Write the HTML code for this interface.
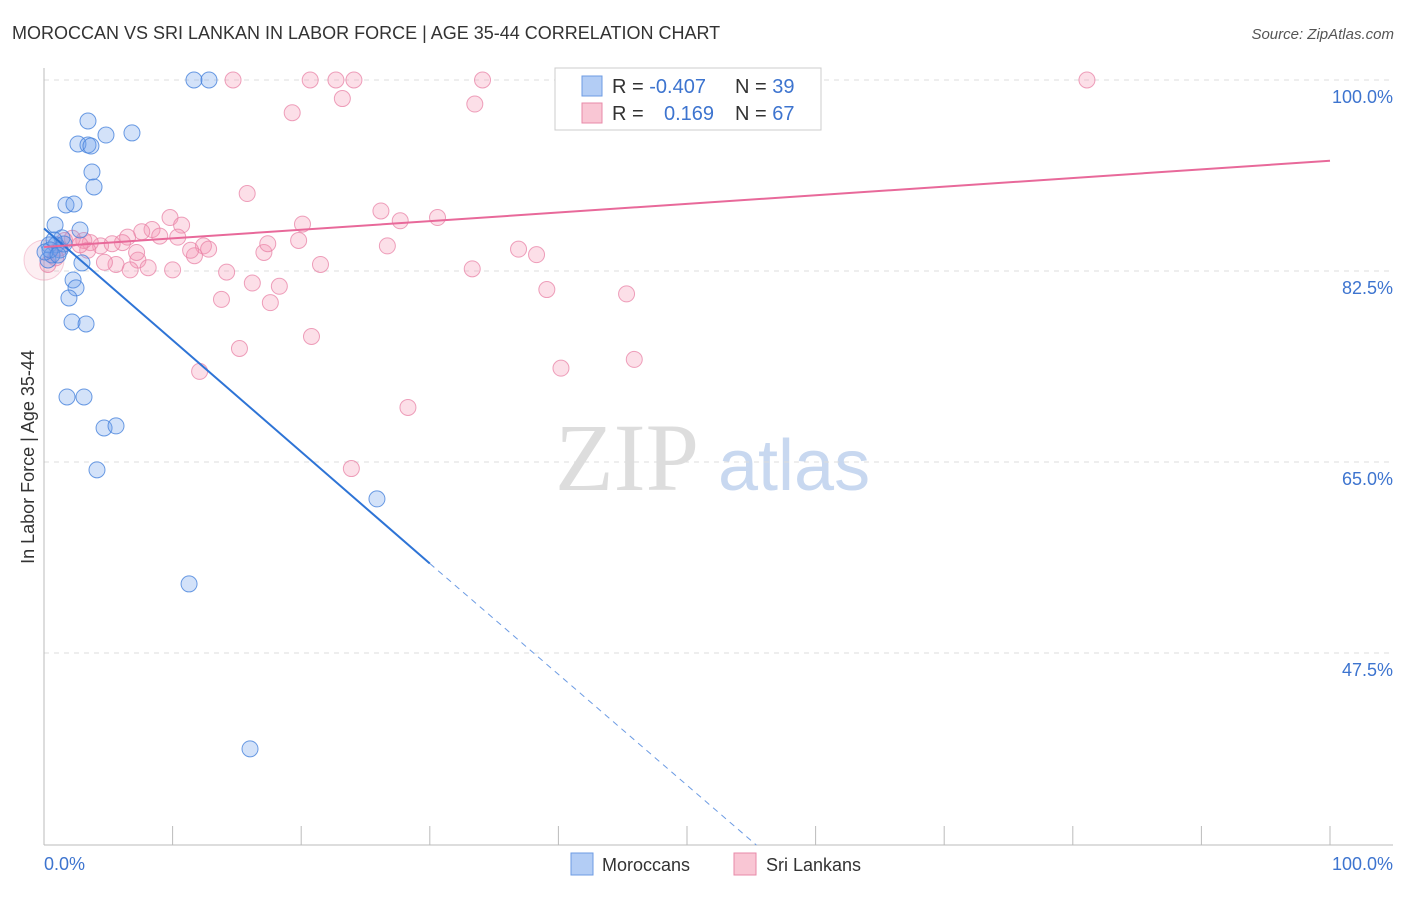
<!DOCTYPE html>
<html><head><meta charset="utf-8"><style>
body{margin:0;background:#fff;font-family:"Liberation Sans",sans-serif}
</style></head><body>
<svg id="chart" width="1406" height="892" xmlns="http://www.w3.org/2000/svg" font-family="Liberation Sans, sans-serif">
<text x="12" y="39" font-size="18" fill="#333">MOROCCAN VS SRI LANKAN IN LABOR FORCE | AGE 35-44 CORRELATION CHART</text>
<text x="1394" y="39" font-size="15" font-style="italic" fill="#555" text-anchor="end">Source: ZipAtlas.com</text>
<g>
<text x="555" y="490" font-size="96" font-family="Liberation Serif, serif" fill="#ddd">ZIP</text>
<text x="718" y="490" font-size="72" fill="#c8d8f0">atlas</text>
</g>
<g id="grid"></g>
<g id="axes"></g>
<g id="marks"></g>
<g id="lines"></g>
<g>
<rect x="555" y="68" width="266" height="62" fill="#fff" stroke="#ccc"/>
<rect x="582" y="76" width="20" height="20" fill="#b3cdf5" stroke="#6c9be3"/>
<rect x="582" y="103" width="20" height="20" fill="#f9c6d4" stroke="#e88aa8"/>
<text x="612" y="93" font-size="20" fill="#333">R = <tspan fill="#3d74cf">-0.407</tspan></text>
<text x="735" y="93" font-size="20" fill="#333">N = <tspan fill="#3d74cf">39</tspan></text>
<text x="612" y="120" font-size="20" fill="#333">R = </text>
<text x="664" y="120" font-size="20" fill="#3d74cf">0.169</text>
<text x="735" y="120" font-size="20" fill="#333">N = <tspan fill="#3d74cf">67</tspan></text>
</g>
<g>
<rect x="571" y="853" width="22" height="22" fill="#b3cdf5" stroke="#6c9be3"/>
<text x="602" y="871" font-size="18" fill="#333">Moroccans</text>
<rect x="734" y="853" width="22" height="22" fill="#f9c6d4" stroke="#e88aa8"/>
<text x="766" y="871" font-size="18" fill="#333">Sri Lankans</text>
</g>
<text transform="translate(34,457) rotate(-90)" font-size="18" fill="#333" text-anchor="middle">In Labor Force | Age 35-44</text>
</svg>
<script>
const blueX=[11.66,12.83,3.42,6.84,4.82,2.64,3.42,3.65,3.73,3.89,1.71,2.33,0.86,2.8,1.4,0.39,0.93,1.24,0.31,0.62,2.95,2.26,2.49,1.94,2.18,3.27,1.79,3.11,4.67,5.6,4.12,25.89,11.28,16.02,0.47,1.56,0.08,1.09,0.78];
const blueY=[100,100,96.24,95.15,94.96,94.14,94.05,93.95,91.57,90.2,88.55,88.64,86.72,86.26,85.53,84.89,84.89,84.43,83.51,83.97,83.24,81.68,80.95,80.03,77.83,77.65,70.96,70.96,68.12,68.31,64.28,61.62,53.83,38.72,84.43,84.98,84.24,83.97,85.34];
const pinkX=[14.7,20.7,22.7,24.1,34.1,81.1,41.4,19.3,23.2,33.5,15.8,26.2,30.6,27.7,20.1,9.8,10.7,8.4,7.6,9.0,6.5,19.8,26.7,36.9,38.3,12.4,12.8,10.4,6.1,4.4,3.6,3.1,2.2,1.6,5.3,11.7,17.1,7.3,5.6,8.1,6.7,10.0,14.2,21.5,33.3,16.2,18.3,13.8,17.6,39.1,45.3,20.8,15.2,12.1,40.2,45.9,28.3,23.9,0.3,0.9,1.2,4.7,7.2,3.4,11.4,2.8,17.4];
const pinkY=[100,100,100,100,100,100,100,97.0,98.3,97.8,89.6,88.0,87.4,87.1,86.8,87.4,86.7,86.3,86.1,85.7,85.6,85.3,84.8,84.5,84.0,84.8,84.5,85.6,85.1,84.8,85.1,85.3,85.5,85.3,85.0,83.9,84.2,83.5,83.1,82.8,82.6,82.6,82.4,83.1,82.7,81.4,81.1,79.9,79.6,80.8,80.4,76.5,75.4,73.3,73.6,74.4,70.0,64.4,83.1,83.7,84.6,83.3,84.2,84.4,84.4,84.9,85.0];
const yTicks=[100,82.5,65,47.5];
const yTickLabels=["100.0%","82.5%","65.0%","47.5%"];
const xTicks=[0,10,20,30,40,50,60,70,80,90,100];
const blueTrend=[86.4,55.7,29.9]; // at x=0, 30, 55.4
const blueTrendX=[0,30,55.4];
const pinkTrend=[84.7,92.6];
const NS="http://www.w3.org/2000/svg";
const X=v=>44+v*12.86;
const Y=v=>80+(100-v)/0.09162;
function mk(tag,attrs,parent){const e=document.createElementNS(NS,tag);for(const k in attrs)e.setAttribute(k,attrs[k]);document.getElementById(parent).appendChild(e);return e;}
yTicks.forEach((t,i)=>{
 const g=mk('line',{x1:44,x2:1393,y1:Y(t),y2:Y(t),stroke:'#ddd','stroke-dasharray':'5,5'},'grid');
 
 
 const l=mk('text',{x:1393,y:Y(t)+23,'font-size':18,fill:'#3d74cf','text-anchor':'end'},'axes');
 l.textContent=yTickLabels[i];
 
 
});
const ax=mk('line',{x1:44,x2:44,y1:68,y2:845,stroke:'#bbb'},'axes');


const bx=mk('line',{x1:44,x2:1393,y1:845,y2:845,stroke:'#bbb'},'axes');


xTicks.forEach(t=>{
 const e=mk('line',{x1:X(t),x2:X(t),y1:826,y2:845,stroke:'#bbb'},'axes');
 
 
});
const x0=mk('text',{x:44,y:870,'font-size':18,fill:'#3d74cf'},'axes');x0.textContent='0.0%';


const x1=mk('text',{x:1393,y:870,'font-size':18,fill:'#3d74cf','text-anchor':'end'},'axes');x1.textContent='100.0%';


const big=mk('circle',{cx:X(0),cy:Y(83.5),r:20,fill:'rgba(240,140,170,0.15)',stroke:'rgba(232,138,168,0.4)'},'marks');


pinkX.forEach((v,i)=>{
 const c=mk('circle',{cx:X(v),cy:Y(pinkY[i]),r:8,fill:'rgba(245,150,180,0.3)',stroke:'rgba(232,130,165,0.75)'},'marks');
 
 
});
blueX.forEach((v,i)=>{
 const c=mk('circle',{cx:X(v),cy:Y(blueY[i]),r:8,fill:'rgba(110,160,235,0.3)',stroke:'rgba(70,130,220,0.8)'},'marks');
 
 
});
const bl=mk('line',{x1:X(blueTrendX[0]),y1:Y(blueTrend[0]),x2:X(blueTrendX[1]),y2:Y(blueTrend[1]),stroke:'#2e74d6','stroke-width':2},'lines');


const bd=mk('line',{x1:X(blueTrendX[1]),y1:Y(blueTrend[1]),x2:X(blueTrendX[2]),y2:Y(blueTrend[2]),stroke:'#6c9be3','stroke-width':1,'stroke-dasharray':'6,5'},'lines');


const pl=mk('line',{x1:X(0),y1:Y(pinkTrend[0]),x2:X(100),y2:Y(pinkTrend[1]),stroke:'#e8699a','stroke-width':2},'lines');


</script>
</body></html>
